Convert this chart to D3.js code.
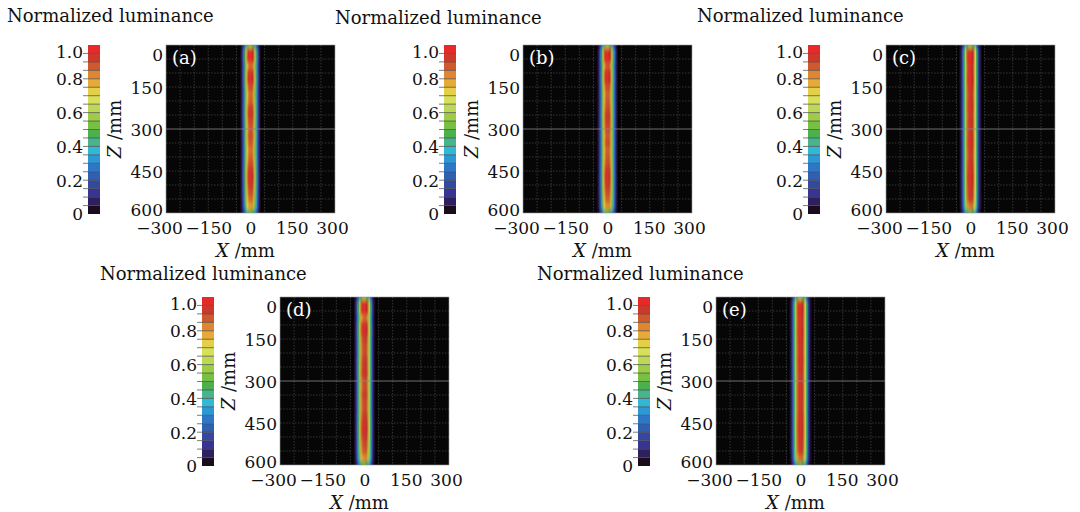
<!DOCTYPE html>
<html>
<head>
<meta charset="utf-8">
<script src="https://cdn.jsdelivr.net/npm/d3@7/dist/d3.min.js"></script>
<style>
body { margin: 0; background: #fff; }
text { font-family: 'DejaVu Serif', serif; fill: #111; }
</style>
</head>
<body>
<div id="chart"></div>
<script>
//global sizes
var width = 1080
var height = 512
var plotw = 169
var ploth = 168
var cbw = 12

//data
var panelLabels = ['(a)', '(b)', '(c)', '(d)', '(e)']
var xTicks = [-300, -150, 0, 150, 300]
var zTicks = [0, 150, 300, 450, 600]
var cbTicks = [0, 0.2, 0.4, 0.6, 0.8, 1.0]
var gridX = [-250, -200, -150, -100, -50, 0, 50, 100, 150, 200, 250]
var gridZ = [50, 100, 150, 200, 250, 350, 400, 450, 500, 550]
var centerLineZ = 300

//colorbar bands, bottom (0) to top (1), 0.05 each
var bandColors = ['#1a0c1c', '#2e2060', '#383494', '#3448a0', '#3060b0',
    '#2c78c4', '#2c98d8', '#30b8d8', '#48b48c', '#4cb04c',
    '#78c044', '#9ccc48', '#bcd856', '#d8e05a', '#e4d048',
    '#e6aa38', '#e08630', '#d0582e', '#cc382c', '#e62a2a']

//transverse beam profile (mm, normalized)
var profileX = [-40, -36, -32, -28, -24, -20, -16, -12, -8, -4, 0, 4, 8, 12, 16, 20, 24, 28, 32, 36, 40]
var profileVal = [0, 0.02, 0.07, 0.16, 0.3, 0.48, 0.68, 0.85, 0.95, 0.99, 1, 0.99, 0.95, 0.85, 0.68, 0.48, 0.3, 0.16, 0.07, 0.02, 0]
var beamWidth = [1, 1, 1.06, 1.03, 1.05]

//axial profile along Z (mm)
var axialZ = [0, 25, 50, 75, 100, 125, 150, 175, 200, 225, 250, 275, 300, 325, 350, 375, 400, 425, 450, 475, 500, 525, 550, 575, 600]
var axialA = [0.55, 0.98, 1.0, 0.86, 0.95, 0.97, 0.9, 0.86, 0.87, 0.92, 0.94, 0.9, 0.88, 0.9, 0.88, 0.85, 0.87, 0.9, 0.95, 0.96, 0.93, 0.9, 0.86, 0.8, 0.5]
var axialB = [0.55, 1.0, 1.0, 0.88, 0.96, 0.97, 0.9, 0.87, 0.88, 0.9, 0.93, 0.92, 0.9, 0.88, 0.9, 0.87, 0.88, 0.9, 0.94, 0.95, 0.93, 0.9, 0.87, 0.82, 0.5]
var axialC = [0.55, 0.97, 0.98, 0.95, 0.96, 0.97, 0.95, 0.93, 0.94, 0.95, 0.93, 0.94, 0.93, 0.94, 0.95, 0.93, 0.92, 0.94, 0.95, 0.96, 0.95, 0.93, 0.92, 0.85, 0.5]
var axialD = [0.55, 0.98, 0.99, 0.86, 0.96, 0.97, 0.92, 0.9, 0.9, 0.92, 0.93, 0.94, 0.9, 0.9, 0.92, 0.9, 0.9, 0.92, 0.95, 0.96, 0.94, 0.9, 0.88, 0.82, 0.5]
var axialE = [0.55, 0.96, 0.97, 0.95, 0.95, 0.96, 0.95, 0.94, 0.94, 0.95, 0.94, 0.93, 0.93, 0.94, 0.94, 0.93, 0.93, 0.94, 0.95, 0.95, 0.94, 0.93, 0.92, 0.86, 0.5]
var axialAll = [axialA, axialB, axialC, axialD, axialE]

//panel placement
var layout = [
    {px: 166, py: 45, cbx: 88, tx: 7, ty: 22},
    {px: 523, py: 45, cbx: 444, tx: 335, ty: 24},
    {px: 886, py: 45, cbx: 808, tx: 697, ty: 22},
    {px: 280, py: 297, cbx: 202, tx: 100, ty: 280},
    {px: 716, py: 297, cbx: 638, tx: 537, ty: 280}
]

var svg = d3.select('#chart')
    .append('svg')
    .attr('width', width)
    .attr('height', height)

//heat color scale: black background then band colors at band centres
var bandMid = bandColors.map((c, i) => (i + 0.5) / bandColors.length)
var heatColor = d3.scaleLinear()
    .domain([0].concat(bandMid))
    .range(['#060606'].concat(bandColors))
    .clamp(true)

var defs = svg.append('defs')
defs.append('filter')
    .attr('id', 'soft')
    .attr('x', '-50%').attr('y', '-10%')
    .attr('width', '200%').attr('height', '120%')
    .append('feGaussianBlur')
    .attr('stdDeviation', '0.6 2.0')

layout.forEach((lay, k) => panelMaker(lay, k))

function panelMaker(lay, k) {
    var g = svg.append('g')
    var axial = axialAll[k]

    var x = d3.scaleLinear().domain([-300, 300]).range([lay.px, lay.px + plotw])
    var z = d3.scaleLinear().domain([0, 600]).range([lay.py, lay.py + ploth])

    defs.append('clipPath')
        .attr('id', 'clip' + k)
        .append('rect')
        .attr('x', lay.px).attr('y', lay.py)
        .attr('width', plotw).attr('height', ploth)

    //title
    g.append('text')
        .attr('x', lay.tx)
        .attr('y', lay.ty)
        .style('font-size', '18px')
        .text('Normalized luminance')

    //plot background
    g.append('rect')
        .attr('x', lay.px).attr('y', lay.py)
        .attr('width', plotw).attr('height', ploth)
        .attr('fill', '#060606')

    //grid
    var grid = g.append('g').attr('clip-path', 'url(#clip' + k + ')')
    grid.selectAll('.gx')
        .data(gridX)
        .enter()
        .append('line')
        .attr('x1', d => x(d)).attr('x2', d => x(d))
        .attr('y1', lay.py).attr('y2', lay.py + ploth)
        .attr('stroke', '#4a4a4a')
        .attr('stroke-width', 0.7)
        .attr('stroke-dasharray', '1.5,1.5')
    grid.selectAll('.gz')
        .data(gridZ)
        .enter()
        .append('line')
        .attr('x1', lay.px).attr('x2', lay.px + plotw)
        .attr('y1', d => z(d)).attr('y2', d => z(d))
        .attr('stroke', '#4a4a4a')
        .attr('stroke-width', 0.7)
        .attr('stroke-dasharray', '1.5,1.5')

    //beam cells
    var cells = []
    axialZ.forEach((zz, j) => {
        profileX.forEach((xx, i) => {
            cells.push({x: xx * beamWidth[k], z: zz, v: profileVal[i] * axial[j]})
        })
    })
    var dx = 4 * beamWidth[k]
    var beam = g.append('g')
        .attr('clip-path', 'url(#clip' + k + ')')
        .append('g')
        .attr('filter', 'url(#soft)')
    beam.selectAll('rect')
        .data(cells)
        .enter()
        .append('rect')
        .attr('x', d => x(d.x - dx / 2))
        .attr('y', d => z(d.z - 12.5))
        .attr('width', x(dx) - x(0) + 0.3)
        .attr('height', z(25) - z(0) + 0.3)
        .attr('fill', d => heatColor(d.v))

    //centre line
    g.append('line')
        .attr('x1', lay.px).attr('x2', lay.px + plotw)
        .attr('y1', z(centerLineZ)).attr('y2', z(centerLineZ))
        .attr('stroke', '#8c8c8c')
        .attr('stroke-width', 0.8)

    //frame
    g.append('rect')
        .attr('x', lay.px).attr('y', lay.py)
        .attr('width', plotw).attr('height', ploth)
        .attr('fill', 'none')
        .attr('stroke', '#9a9a9a')
        .attr('stroke-width', 0.6)

    //panel label
    g.append('text')
        .attr('x', lay.px + 6)
        .attr('y', lay.py + 19)
        .style('font-size', '18px')
        .style('fill', '#fff')
        .text(panelLabels[k])

    //axes
    var zAxis = g.append('g')
        .attr('transform', 'translate(' + lay.px + ',0)')
        .call(d3.axisLeft(z).tickValues(zTicks).tickSize(0).tickPadding(3))
    zAxis.select('.domain').remove()
    zAxis.selectAll('text')
        .style('font-size', '17px')
        .attr('dy', d => d === 0 ? '0.9em' : d === 600 ? '0.15em' : '0.4em')

    var xAxis = g.append('g')
        .attr('transform', 'translate(0,' + (lay.py + ploth) + ')')
        .call(d3.axisBottom(x).tickValues(xTicks).tickSize(0).tickPadding(9))
    xAxis.select('.domain').remove()
    xAxis.selectAll('text')
        .style('font-size', '17px')
        .attr('dx', d => d === -300 ? -7 : d === 300 ? -3 : d === 150 ? -1 : 0)

    //axis titles
    var xt = g.append('text')
        .attr('x', lay.px + plotw / 2 - 5)
        .attr('y', lay.py + ploth + 44)
        .attr('text-anchor', 'middle')
        .style('font-size', '18px')
    xt.append('tspan').style('font-style', 'italic').text('X')
    xt.append('tspan').text(' /mm')

    var zt = g.append('text')
        .attr('transform', 'translate(' + (lay.px - 45) + ',' + (lay.py + ploth / 2) + ') rotate(-90)')
        .attr('text-anchor', 'middle')
        .style('font-size', '18px')
    zt.append('tspan').style('font-style', 'italic').text('Z')
    zt.append('tspan').text(' /mm')

    //colorbar
    var cbh = ploth + 1
    var c = d3.scaleLinear().domain([0, 1]).range([lay.py + cbh, lay.py])
    g.selectAll('.band')
        .data(bandColors)
        .enter()
        .append('rect')
        .attr('x', lay.cbx)
        .attr('y', (d, i) => c((i + 1) / bandColors.length))
        .attr('width', cbw)
        .attr('height', c(0) - c(1 / bandColors.length))
        .attr('fill', d => d)
    g.selectAll('.cbtick')
        .data(d3.range(1, bandColors.length).map(i => i / bandColors.length))
        .enter()
        .append('line')
        .attr('x1', lay.cbx - 5).attr('x2', lay.cbx + cbw)
        .attr('y1', d => c(d)).attr('y2', d => c(d))
        .attr('stroke', '#444')
        .attr('stroke-width', 0.7)
    var cAxis = g.append('g')
        .attr('transform', 'translate(' + lay.cbx + ',0)')
        .call(d3.axisLeft(c).tickValues(cbTicks).tickSize(0).tickPadding(5)
            .tickFormat(d => d === 0 ? '0' : d3.format('.1f')(d)))
    cAxis.select('.domain').remove()
    cAxis.selectAll('text')
        .style('font-size', '17px')
        .attr('dy', d => d === 1 ? '0.75em' : '0.35em')
}
</script>
</body>
</html>
